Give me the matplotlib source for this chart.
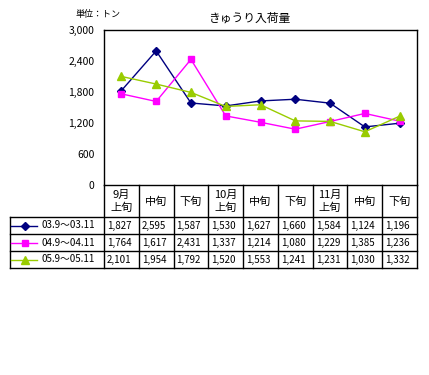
import matplotlib
matplotlib.use('Agg')
import matplotlib.pyplot as plt

plt.rcParams['font.family'] = ['Noto Sans CJK JP', 'DejaVu Sans']

# data
periods = ['9月\n上旬', '中旬', '下旬', '10月\n上旬', '中旬', '下旬', '11月\n上旬', '中旬', '下旬']
series_names = ['03.9～03.11', '04.9～04.11', '05.9～05.11']
s2003 = [1827, 2595, 1587, 1530, 1627, 1660, 1584, 1124, 1196]
s2004 = [1764, 1617, 2431, 1337, 1214, 1080, 1229, 1385, 1236]
s2005 = [2101, 1954, 1792, 1520, 1553, 1241, 1231, 1030, 1332]
yticks = [0, 600, 1200, 1800, 2400, 3000]

colors = ['#000080', '#FF00FF', '#99CC00']
markers = ['D', 's', '^']
msizes = [4.5, 5, 5.5]

W, H = 429, 375
fig = plt.figure(figsize=(W / 100, H / 100), dpi=100)

def px_rect(l, t, r, b):
	return [l / W, 1 - b / H, (r - l) / W, (b - t) / H]

# main plot
ax = fig.add_axes(px_rect(104, 30, 417, 185))
xs = range(len(periods))
all_series = [s2003, s2004, s2005]
for vals, c, m, ms in zip(all_series, colors, markers, msizes):
	ax.plot(xs, vals, color=c, lw=1, marker=m, ms=ms, mfc=c, mec=c)
ax.set_xlim(-0.5, 8.5)
ax.set_ylim(0, 3000)
ax.set_yticks(yticks)
ax.set_yticklabels(['{:,}'.format(v) for v in yticks])
ax.tick_params(axis='y', length=0, pad=7, labelsize=7.5)
ax.set_xticks([])
for sp in ax.spines.values():
	sp.set_linewidth(1)
	sp.set_color('black')

fig.text(249 / W, 1 - 18 / H, 'きゅうり入荷量', ha='center', va='center', fontsize=8.5)
fig.text(75 / W, 1 - 14 / H, '単位：トン', ha='left', va='center', fontsize=6.5)

# data table under the plot
tax = fig.add_axes(px_rect(10, 185, 417, 268))
colw = (417 - 104) / 9.0

def px2x(px):
	return -0.5 + (px - 104) / colw

left = px2x(10)
tax.set_xlim(left, 8.5)
tax.set_ylim(83, 0)
tax.axis('off')

row_edges = [0, 32, 49, 66, 83]
lk = dict(color='black', lw=1, clip_on=False)
for k in range(len(periods) + 1):
	tax.plot([k - 0.5, k - 0.5], [0, 83], **lk)
tax.plot([left, left], [32, 83], **lk)
for y in row_edges[1:]:
	tax.plot([left, 8.5], [y, y], **lk)

for i, p in enumerate(periods):
	tax.text(i, 16.5, p, ha='center', va='center', fontsize=8, linespacing=1.35)

for r, (name, vals, c, m, ms) in enumerate(zip(series_names, all_series, colors, markers, msizes)):
	yc = (row_edges[r + 1] + row_edges[r + 2]) / 2.0
	tax.plot([px2x(11), px2x(37)], [yc, yc], color=c, lw=1, clip_on=False)
	tax.plot([px2x(25)], [yc], marker=m, ms=ms, color=c, clip_on=False)
	tax.text(px2x(42), yc, name, ha='left', va='center', fontsize=7)
	for i, v in enumerate(vals):
		tax.text(i - 0.5 + 3 / colw, yc, '{:,}'.format(v), ha='left', va='center', fontsize=7)

plt.savefig('out.png', dpi=100)
